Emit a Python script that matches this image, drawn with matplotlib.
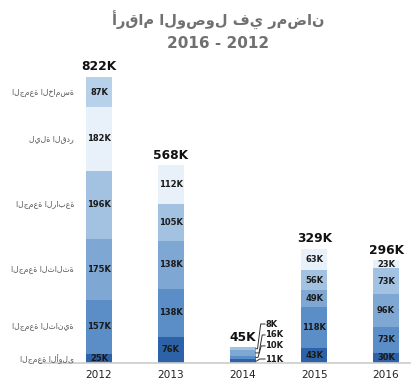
import matplotlib
matplotlib.use("Agg")
import matplotlib.pyplot as plt

# ---------------- data ----------------
years = ['2012', '2013', '2014', '2015', '2016']
fri1 = [25, 76, 11, 43, 30]
fri2 = [157, 138, 10, 118, 73]
fri3 = [175, 138, 16, 49, 96]
fri4 = [196, 105, 8, 56, 73]
qadr = [182, 112, 0, 63, 23]
fri5 = [87, 0, 0, 0, 0]
totals = ['822K', '568K', '45K', '329K', '296K']
series_names = ['الجمعة الأولى', 'الجمعة الثانية', 'الجمعة الثالثة',
                'الجمعة الرابعة', 'ليلة القدر', 'الجمعة الخامسة']
title_line1 = 'أرقام الوصول في رمضان'
title_line2 = '2016 - 2012'

colors = ['#2e62a8', '#5b8ec6', '#7ea8d3', '#a3c2e2', '#e8f0f9', '#b8d1ea']

plt.rcParams['font.family'] = ['DejaVu Sans']

# ---------------- figure ----------------
W, H = 415, 388
fig = plt.figure(figsize=(W / 100, H / 100), dpi=100)
fig.patch.set_facecolor('white')
ax_left, ax_right = 40, 410
base_px, top_px = 363, 60
ax = fig.add_axes([ax_left / W, (H - base_px) / H, (ax_right - ax_left) / W, (base_px - top_px) / H])

x = list(range(len(years)))
spacing = (386 - 99) / 4.0
ax.set_xlim(-(99 - ax_left) / spacing, 4 + (ax_right - 386) / spacing)
ax.set_ylim(0, (base_px - top_px) / 0.348)
bw = 26 / spacing

stack = [fri1, fri2, fri3, fri4, qadr, fri5]
bottoms = [0] * len(years)
bars = []
for vals, col in zip(stack, colors):
    ax.bar(x, vals, bw, bottom=bottoms, color=col, edgecolor='none', zorder=2)
    bars.append((list(bottoms), vals))
    bottoms = [bo + v for bo, v in zip(bottoms, vals)]

seg_size = 6.0
tot_size = 8.8
yr_size = 7.6

# segment labels
for si, (bots, vals) in enumerate(bars):
    for i in x:
        v = vals[i]
        if v >= 20:
            ax.text(i, bots[i] + v / 2, f'{v}K', ha='center', va='center',
                    fontsize=seg_size, fontweight='bold', color='#1a1a1a', zorder=3)

# callouts for 2014
i14 = years.index('2014')
offs = [(7, 1.5, 1.0), (7, 8.3, 2.5), (7, 12.9, 3.5), (7, 17.8, 2.0)]
for si in range(4):
    bots, vals = bars[si]
    v = vals[i14]
    dx, dy, stub = offs[si]
    ax.annotate(f'{v}K', xy=(i14 + bw / 2, bots[i14] + v / 2), xytext=(dx, dy),
                textcoords='offset points', ha='left', va='center',
                fontsize=seg_size, fontweight='bold', color='#1a1a1a',
                arrowprops=dict(arrowstyle='-', color='#333333', lw=0.7, shrinkA=0, shrinkB=0,
                                relpos=(0, 0.5), patchA=None,
                                connectionstyle=f'arc,angleA=180,armA={dx - stub - 0.5},angleB=0,armB={stub},rad=0'))

# totals
for i in x:
    ax.annotate(totals[i], xy=(i, bottoms[i]), xytext=(0, 2.5), textcoords='offset points',
                ha='center', va='bottom', fontsize=tot_size, fontweight='bold', color='#111111')

# left category labels (aligned with 2012 bar)
for si, (bots, vals) in enumerate(bars):
    v = vals[0]
    ax.annotate(series_names[si], xy=(-bw / 2, bots[0] + v / 2), xytext=(-12, 0),
                textcoords='offset pixels', ha='right', va='center', fontsize=5.6,
                color='#555555')

# axes styling
ax.set_xticks(x)
ax.set_xticklabels(years, fontsize=yr_size, color='#222222')
ax.tick_params(axis='x', length=0, pad=5)
ax.set_yticks([])
for s in ['top', 'right', 'left']:
    ax.spines[s].set_visible(False)
ax.spines['bottom'].set_color('#cccccc')
ax.spines['bottom'].set_linewidth(1.2)
ax.set_facecolor('white')

# title
fig.text(218 / W, 1 - 20 / H, title_line1, ha='center', va='center',
         fontsize=10.5, fontweight='bold', color='#707070')
fig.text(218 / W, 1 - 44 / H, title_line2, ha='center', va='center',
         fontsize=11, fontweight='bold', color='#707070')

fig.savefig('out.png', dpi=100, facecolor='white')
